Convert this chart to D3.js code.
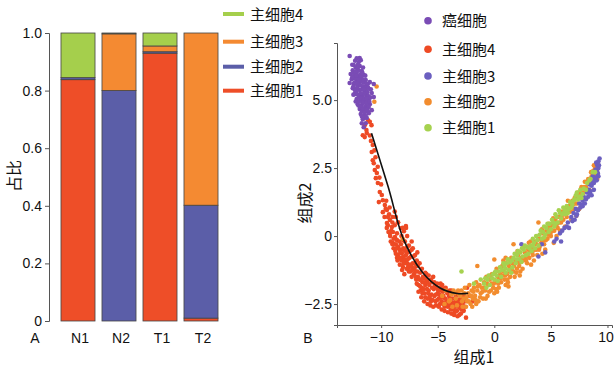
<!DOCTYPE html>
<html>
<head>
<meta charset="utf-8">
<script src="https://cdn.jsdelivr.net/npm/d3@7"></script>
<style>
  body { margin: 0; background: #fff; }
  text { font-family: "Liberation Sans", Arial, "Noto Sans CJK SC", sans-serif; fill: #111; }
  .cjk { font-family: "Noto Sans CJK SC", "Liberation Sans", sans-serif; }
</style>
</head>
<body>
<svg id="chart" width="614" height="371"></svg>
<script>
// ---- panel A data ----
const samples = ['N1', 'N2', 'T1', 'T2'];
const barSeries = ['主细胞1', '主细胞2', '主细胞3', '主细胞4'];
const cell1 = [0.838, 0.000, 0.930, 0.010];
const cell2 = [0.007, 0.800, 0.005, 0.392];
const cell3 = [0.000, 0.197, 0.020, 0.598];
const cell4 = [0.155, 0.003, 0.045, 0.000];
const barTicks = [0, 0.2, 0.4, 0.6, 0.8, 1.0];

// ---- panel B data (组成1, 组成2) ----
const cancer = [
  [-12.78,6.62],[-12.16,6.54],[-11.8,6.47],[-11.98,6.4],[-12.42,6.29],[-12.24,6.21],[-11.89,6.25],
  [-12.51,6.1],[-12.16,6.03],[-11.71,6.07],[-12.33,5.92],[-11.98,5.88],[-11.54,5.92],[-12.6,5.77],
  [-12.16,5.74],[-11.8,5.7],[-11.36,5.74],[-12.42,5.59],[-12.07,5.55],[-11.62,5.51],[-11.18,5.59],
  [-11.0,5.66],[-12.24,5.4],[-11.89,5.37],[-11.45,5.33],[-10.91,5.4],[-12.33,5.22],[-11.98,5.18],
  [-11.62,5.15],[-11.27,5.18],[-10.83,5.26],[-12.16,5.04],[-11.8,5.0],[-11.45,4.96],[-11.09,5.0],
  [-12.07,4.85],[-11.71,4.82],[-11.36,4.78],[-11.0,4.85],[-11.89,4.67],[-11.54,4.63],[-11.18,4.6],
  [-11.8,4.49],[-11.45,4.45],[-11.09,4.52],[-11.62,4.3],[-11.27,4.34],[-10.83,4.63],[-10.65,5.11],
  [-10.65,5.59],[-12.51,5.44],[-12.69,5.96],[-12.78,5.63],[-11.71,4.15],[-11.36,4.15],[-11.54,4.0],
  [-12.3,5.8],[-12.0,5.65],[-11.7,5.4],[-11.9,5.1],[-11.6,4.9],[-11.4,5.5],[-12.1,6.15],[-11.85,5.95],
  [-12.45,5.5],[-11.5,5.25],[-11.25,4.9],[-11.7,4.6],[-12.2,5.3],[-11.95,4.95],[-11.3,5.45],
  [-12.55,6.3],[-11.6,6.2],[-11.55,5.65],[-11.15,5.15],[-11.4,4.7],
  [-12.4,6.0],[-12.2,5.9],[-12.0,6.1],[-11.75,5.85],[-12.35,5.65],[-12.1,5.45],[-11.85,5.55],[-11.6,5.75],
  [-11.3,5.6],[-12.3,5.35],[-12.05,5.2],[-11.8,5.25],[-11.55,5.4],[-11.2,5.3],[-12.0,4.8],[-11.75,5.05],
  [-11.5,5.05],[-11.3,5.05],[-11.1,4.75],[-11.85,4.75],[-11.6,4.7],[-11.45,4.55],[-11.25,4.65],[-11.5,4.35],
  [-11.35,4.4],[-12.15,5.6],[-11.95,5.75],[-12.55,5.85],[-12.25,6.05],[-11.65,6.0],[-12.05,6.3],[-11.9,6.55],
  [-12.3,6.45],[-11.4,5.9],[-11.15,5.45],[-10.95,5.1],[-11.05,4.95],[-12.45,5.2],[-12.25,4.95],[-11.7,4.4]
];
const main4 = [
  [-11.62,3.71],[-11.27,3.79],[-11.45,3.64],[-11.15,4.26],[-11.0,4.2],[-11.45,4.08],[-11.3,3.9],[-10.85,4.08],
  [-10.74,3.35],[-10.83,3.09],[-10.74,2.79],[-10.65,2.68],[-10.56,2.43],[-10.38,2.32],[-10.47,2.13],
  [-10.29,1.95],[-10.12,1.62],[-9.94,1.51],[-9.85,1.32],[-10.2,1.25],[-9.67,1.14],[-9.49,0.96],
  [-9.85,0.88],[-9.4,0.7],[-9.23,0.59],[-9.49,0.48],[-9.05,0.33],[-8.96,0.15],[-9.23,0.11],
  [-8.78,-0.04],[-8.6,-0.15],[-8.96,-0.26],[-8.52,-0.4],[-8.34,-0.51],[-8.16,-0.63],[-8.07,-0.77],
  [-8.52,-0.7],[-7.9,-0.88],[-7.72,-0.99],[-8.07,-1.14],[-7.63,-1.18],[-7.28,-1.14],
  [-8.25,0.29],[-7.99,0.18],[-7.81,0.37],[-8.52,0.51],[-7.8,0.3],[-7.7,0.0],
  [-9.6,1.0],[-9.3,0.8],[-9.0,0.5],[-8.8,0.9],[-9.1,0.2],[-8.7,0.7],[-9.4,0.4],[-8.9,-0.1],
  [-8.8,0.4],[-8.6,0.1],[-8.4,-0.2],[-8.7,-0.3],[-8.2,0.0],[-8.0,-0.5],[-8.3,-0.6],[-8.5,0.5],
  [-8.1,0.3],[-7.9,-0.2],[-8.6,-0.8],[-8.2,-0.9],[-7.8,-0.7],
  [-7.7,-0.4],[-7.5,-0.8],[-7.3,-0.5],[-7.6,-1.1],[-7.2,-1.0],[-7.0,-0.7],[-7.4,-1.3],[-7.1,-1.4],
  [-6.9,-1.1],[-7.8,-1.0],[-7.3,-0.2],[-6.8,-0.6],
  [-6.8,-1.3],[-6.6,-1.6],[-6.4,-1.2],[-6.7,-1.8],[-6.3,-1.5],[-6.1,-1.8],[-6.5,-2.0],[-6.2,-2.1],
  [-6.0,-1.4],[-6.6,-1.0],[-6.9,-1.6],[-6.4,-1.9],
  [-5.9,-1.7],[-5.8,-2.0],[-5.6,-1.6],[-5.7,-2.3],[-5.5,-1.9],[-5.3,-2.2],[-5.4,-1.5],[-5.1,-1.9],
  [-5.2,-2.4],[-5.0,-2.1],[-5.9,-2.3],[-5.6,-2.4],[-5.3,-1.7],
  [-4.9,-2.3],[-4.8,-2.5],[-4.7,-2.0],[-4.5,-2.2],[-4.4,-2.6],[-4.3,-1.9],[-4.2,-2.4],[-4.0,-2.2],
  [-4.6,-1.8],[-4.1,-2.6],[-4.8,-1.9],[-4.5,-2.5],
  [-3.9,-2.5],[-3.7,-2.3],[-3.6,-2.7],[-3.4,-2.4],[-3.3,-2.1],[-3.2,-2.6],[-3.0,-2.3],[-2.9,-2.7],
  [-2.8,-2.5],[-2.7,-2.2],[-3.5,-2.8],[-3.1,-2.9],[-2.6,-2.6],[-3.8,-2.0],[-2.5,-3.0],[-3.3,-2.75],
  [-2.2,-2.2],[-1.9,-2.4],[-2.4,-1.9],
  [-8.45,-0.45],[-8.05,-0.15],[-7.65,-0.6],[-7.45,-1.05],[-7.15,-0.75],[-6.95,-1.3],[-6.75,-1.5],
  [-6.55,-1.35],[-6.35,-1.7],[-6.15,-1.55],[-5.95,-1.95],[-5.75,-1.8],[-5.55,-2.15],[-5.35,-1.95],
  [-5.15,-2.15],[-4.95,-2.0],[-4.75,-2.25],[-4.55,-2.05],[-4.35,-2.3],[-4.15,-2.1],[-3.95,-2.3],
  [-3.75,-2.55],[-3.55,-2.45],[-3.35,-2.55],[-3.15,-2.35],[-2.95,-2.5],[-2.75,-2.4],[-5.85,-2.1],
  [-5.45,-2.35],[-4.65,-2.4],[-4.25,-2.55],[-3.85,-2.7],[-6.25,-1.95],[-6.85,-0.9],[-7.25,-1.25],[-7.9,-0.85],
  [-9.7,0.7],[-9.5,0.3],[-9.2,0.0],[-9.0,-0.3],[-8.75,-0.55],[-8.55,-0.9],[-8.35,-1.05],[-8.15,-1.25],
  [-7.95,-1.4],[-9.35,0.15],[-9.15,-0.2],[-8.9,-0.45],[-8.7,-0.65],[-8.45,-0.8],[-8.25,-0.3],[-8.05,-0.45],
  [-7.85,-0.55],[-7.55,-0.35],[-7.35,-0.75],[-7.55,-1.3],[-7.3,-1.5],[-7.05,-1.2],[-6.75,-1.1],[-6.95,-1.5],
  [-6.85,-1.75],[-6.55,-1.85],[-6.35,-2.1],[-6.1,-2.25],[-5.9,-2.5],[-5.65,-2.55],[-5.4,-2.6],[-5.15,-2.55],
  [-4.9,-2.6],[-4.65,-2.7],[-4.4,-2.75],[-4.1,-2.8],[-3.8,-2.85],[-3.55,-2.9],[-3.25,-2.95],[-2.95,-2.85],
  [-2.7,-2.75],[-6.1,-1.35],[-5.8,-1.45],[-5.5,-1.7],[-5.25,-1.8],[-5.05,-1.75],[-4.75,-1.75],[-4.5,-1.95],
  [-4.25,-2.0],[-3.95,-2.0],[-3.65,-2.1],[-3.4,-2.2],[-3.1,-2.15],[-2.85,-2.3],[-2.6,-2.4],[-6.7,-2.05],
  [-6.45,-2.25],[-6.2,-2.4],[-5.05,-2.35],[-4.85,-2.15],[-4.6,-2.25],[-4.35,-2.45],[-4.05,-2.45],[-3.7,-2.45],
  [-3.45,-2.6],[-3.2,-2.45],[-3.0,-2.65],[-5.7,-2.2],[-5.95,-1.6],[-6.2,-1.7],[-6.5,-1.6],[-7.0,-1.0],
  [-7.2,-0.45],[-7.45,-0.55],[-7.65,-0.85],[-7.75,-1.2],[-8.0,-1.0],[-8.3,-0.8],[-8.65,-0.45],[-9.0,0.7],
  [-9.25,1.05],[-9.55,1.3],[-10.0,1.9],[-10.15,2.15],[-10.3,2.55],[-10.5,2.9],[-10.6,3.15],[-10.9,3.5],[-11.0,3.7]
];
const main3 = [
  [4.5,-0.6],[5.3,-0.2],[5.8,0.1],[6.2,0.3],[6.5,0.5],[6.8,0.7],[7.0,0.85],[7.2,1.0],[7.3,0.8],
  [7.5,1.2],[7.6,1.05],[7.8,1.3],[7.9,1.45],[8.0,1.2],[8.2,1.6],[8.3,1.45],[8.4,1.9],[8.5,1.65],
  [8.6,1.85],[8.7,2.2],[8.8,1.95],[8.9,2.15],[9.0,2.4],[9.05,2.05],[9.1,2.6],[9.15,2.3],[9.2,2.5],
  [9.3,2.85],[9.0,2.7],[8.6,1.5],[7.1,0.6],[6.6,0.3],[5.9,-0.2],[4.2,-0.3],[3.9,-0.75],[2.4,-0.3],
  [8.8,1.7],[9.2,2.2],
  [7.4,0.95],[7.7,1.15],[8.1,1.35],[8.35,1.7],[8.55,1.95],[8.75,2.05],[8.95,2.45],[9.1,2.35],[9.25,2.6],
  [9.2,2.75],[6.9,0.55],[7.25,0.75],[7.8,1.1],[8.45,1.55],[9.0,2.15],[5.5,-0.1],[6.0,0.2],[6.4,0.35]
];
const main2 = [
  [-4.6,-2.2],[-4.3,-2.0],[-4.0,-2.4],[-3.8,-2.15],[-3.6,-2.0],[-3.4,-2.3],[-3.2,-2.0],[-3.0,-2.2],[-4.4,-2.5],[-3.7,-2.6],
  [-2.9,-2.0],[-2.7,-2.3],[-2.6,-1.9],[-2.4,-2.4],[-2.3,-2.1],[-2.1,-2.5],[-2.0,-2.0],[-2.5,-2.6],[-2.2,-1.8],[-2.8,-2.6],
  [-1.9,-2.3],[-1.8,-1.9],[-1.7,-2.2],[-1.5,-2.0],[-1.4,-2.4],[-1.3,-1.8],[-1.2,-2.1],[-1.0,-2.3],[-1.6,-1.7],[-1.1,-1.9],
  [-0.9,-1.7],[-0.8,-2.0],[-0.6,-2.2],[-0.5,-1.8],[-0.4,-1.6],[-0.3,-2.0],[-0.1,-1.9],[0.0,-2.1],[-0.7,-1.5],[-0.2,-1.4],
  [0.1,-1.7],[0.3,-1.5],[0.4,-1.9],[0.5,-1.4],[0.6,-1.7],[0.8,-1.3],[0.9,-1.6],[1.0,-1.8],[0.2,-1.2],[0.7,-1.1],
  [1.1,-1.4],[1.3,-1.1],[1.4,-1.5],[1.6,-1.0],[1.7,-1.3],[1.9,-0.9],[2.0,-1.2],[1.2,-1.7],[1.8,-1.5],[1.5,-0.8],
  [2.1,-0.7],[2.2,-1.1],[2.4,-0.8],[2.5,-1.2],[2.7,-0.6],[2.8,-0.9],[3.0,-0.5],[2.3,-1.3],[2.9,-1.0],[2.6,-0.4],
  [3.1,-0.8],[3.3,-0.4],[3.4,-0.7],[3.6,-0.2],[3.7,-0.5],[3.9,-0.1],[4.0,-0.4],[3.5,-0.9],[3.8,-0.7],[3.2,-0.2],
  [4.1,-0.1],[4.3,0.1],[4.4,-0.3],[4.6,0.2],[4.7,-0.1],[4.9,0.3],[5.0,0.0],[4.5,-0.5],[4.8,0.45],[4.2,0.25],
  [5.1,0.4],[5.3,0.2],[5.4,0.6],[5.6,0.3],[5.7,0.7],[5.9,0.5],[6.0,0.9],[5.5,0.0],[5.8,0.2],[5.2,0.65],
  [6.1,0.6],[6.3,1.0],[6.4,0.7],[6.6,1.1],[6.7,0.9],[6.9,1.3],[7.0,1.0],[6.5,1.3],[6.8,0.6],
  [7.1,1.4],[7.3,1.2],[7.4,1.6],[7.6,1.4],[7.7,1.8],[7.9,1.6],[8.0,2.0],[7.5,1.0],
  [8.1,1.8],[8.3,2.1],[8.4,1.7],[8.6,2.2],[8.7,2.0],[8.9,2.5],[9.0,2.3],[8.8,2.6],[9.1,2.1],
  [-1.5,-1.1],[0.0,-0.86],[1.0,-0.8],[1.7,-0.3],[3.9,0.5],[0.8,-0.9],[-10.4,5.5],[-10.6,4.94],[-8.1,-0.1],
  [-3.9,-2.35],[-3.5,-2.1],[-3.3,-2.55],[-3.1,-2.15],[-2.85,-2.4],[-2.65,-2.1],[-2.45,-2.25],[-2.25,-2.4],
  [-2.05,-2.2],[-1.85,-2.05],[-1.65,-2.35],[-1.45,-1.85],[-1.25,-2.25],[-1.05,-2.05],[-0.85,-1.9],[-0.65,-1.75],
  [-0.45,-2.05],[-0.25,-1.75],[-0.05,-1.75],[0.15,-1.95],[0.35,-1.75],[0.55,-1.55],[0.75,-1.45],[0.95,-1.45],
  [1.15,-1.6],[1.35,-1.3],[1.55,-1.2],[1.75,-1.1],[1.95,-1.35],[2.15,-0.95],[2.35,-0.95],[2.55,-0.9],
  [2.75,-0.8],[2.95,-0.75],[3.15,-0.55],[3.35,-0.6],[3.55,-0.5],[3.75,-0.3],[3.95,-0.5],[4.15,-0.25],
  [4.35,-0.15],[4.55,-0.15],[4.75,0.05],[4.95,0.1],[5.15,0.2],[5.35,0.4],[5.55,0.45],[5.75,0.5],
  [5.95,0.7],[6.15,0.8],[6.35,0.85],[6.55,0.95],[6.75,1.15],[6.95,1.15],[7.15,1.2],[7.35,1.45],
  [7.55,1.55],[7.75,1.6],[7.95,1.8],[8.15,2.0],[8.35,1.95],[8.55,2.35],[8.75,2.4],[8.95,2.2],
  [9.1,2.45],[9.15,2.7],[0.05,-1.35],[-0.35,-1.45],[1.05,-1.0],[2.05,-0.55],[3.05,-0.25],[-1.95,-2.6],
  [-1.6,-2.5],[-0.75,-2.3],[0.25,-2.05],[1.25,-1.85],[2.25,-1.45],[3.25,-1.05],[4.25,-0.65],[5.25,-0.25],
  [6.25,0.35],[7.25,0.75]
];
const main1 = [
  [-0.9,-1.75],[-0.6,-1.6],[-0.4,-1.8],[-0.2,-1.55],[0.0,-1.6],[-0.7,-1.9],
  [0.2,-1.45],[0.4,-1.3],[0.6,-1.5],[0.7,-1.25],[0.9,-1.1],[1.0,-1.35],[0.3,-1.65],
  [1.1,-1.0],[1.3,-1.25],[1.4,-0.95],[1.6,-1.15],[1.7,-0.8],[1.9,-1.0],[2.0,-0.7],[1.5,-1.35],
  [2.2,-0.85],[2.3,-0.6],[2.5,-0.75],[2.6,-0.5],[2.8,-0.7],[2.9,-0.4],[3.0,-0.65],[2.4,-0.95],
  [3.2,-0.35],[3.3,-0.55],[3.5,-0.25],[3.6,-0.45],[3.8,-0.15],[3.9,-0.35],[4.0,0.05],
  [4.2,-0.1],[4.3,0.15],[4.5,0.05],[4.6,0.3],[4.8,0.15],[4.9,0.45],[5.0,0.25],
  [5.2,0.5],[5.3,0.35],[5.5,0.7],[5.6,0.5],[5.8,0.85],[5.9,0.65],[6.0,0.8],
  [6.2,0.9],[6.4,1.1],[6.5,0.85],[6.7,1.25],[6.8,1.05],[7.0,1.3],
  [7.2,1.5],[7.4,1.35],[7.6,1.7],[7.8,1.55],[8.2,1.95],[8.5,2.1],[-2.9,-1.3],
  [-0.8,-1.55],[-0.5,-1.45],[-0.1,-1.4],[0.1,-1.3],[0.5,-1.15],[0.8,-1.0],[1.2,-0.85],[1.55,-0.9],
  [1.8,-0.65],[2.1,-0.55],[2.45,-0.45],[2.7,-0.35],[3.1,-0.45],[3.4,-0.1],[3.7,0.0],[4.1,0.2],
  [4.4,0.35],[4.7,0.45],[5.1,0.6],[5.4,0.8],[5.7,0.95],[6.1,1.05],[6.3,0.8],[6.6,1.0],
  [6.9,1.15],[7.1,1.35],[7.3,1.6],[7.5,1.45],[7.7,1.4],[7.9,1.75],[8.1,1.7],[8.4,2.05],
  [8.7,2.35],[8.9,2.35],[1.0,-1.2],[2.0,-0.85],[3.4,-0.35],[4.4,-0.05],[5.4,0.45],[6.3,0.95],
  [-1.8,-1.75],[-1.2,-1.6]
];
const trajectory = [[-10.85,3.78],[-9.38,1.81],[-7.99,-0.15],[-6.3,-1.36],[-4.79,-1.91],[-3.28,-2.11],[-2.31,-2.1]];
const scatterLegend = ['癌细胞', '主细胞4', '主细胞3', '主细胞2', '主细胞1'];
const xTicks = [-10, -5, 0, 5, 10];
const yTicks = [-2.5, 0, 2.5, 5.0];

const svg = d3.select('#chart');
const axisColor = '#555';
const minus = s => s.replace('-', '\u2212');

// ================= panel A =================
const barColor = d3.scaleOrdinal().domain(barSeries)
  .range(['#ee4e28', '#5b5ea8', '#f48a32', '#a5cf4c']);

const rows = samples.map((s, i) => ({
  sample: s, '主细胞1': cell1[i], '主细胞2': cell2[i], '主细胞3': cell3[i], '主细胞4': cell4[i]
}));
const stacked = d3.stack().keys(barSeries)(rows);

const xA = d3.scaleBand().domain(samples).range([57.5, 221.5]).paddingInner(0.17).paddingOuter(0.085);
const yA = d3.scaleLinear().domain([0, 1]).range([321, 33]);

const gA = svg.append('g');
gA.selectAll('g.layer')
  .data(stacked)
  .enter().append('g')
  .attr('class', 'layer')
  .attr('fill', d => barColor(d.key))
  .selectAll('rect')
  .data(d => d)
  .enter().append('rect')
  .attr('x', d => xA(d.data.sample))
  .attr('width', xA.bandwidth())
  .attr('y', d => yA(d[1]))
  .attr('height', d => yA(d[0]) - yA(d[1]))
  .attr('stroke', '#444')
  .attr('stroke-width', 0.8);

const axA = gA.append('g')
  .attr('transform', 'translate(49,0)')
  .call(d3.axisLeft(yA).tickValues(barTicks).tickSize(4).tickPadding(3)
    .tickFormat(d => d === 0 ? '0' : d.toFixed(1)));
axA.select('.domain').attr('stroke', axisColor);
axA.selectAll('.tick line').attr('stroke', axisColor);
axA.selectAll('text').attr('font-size', 14).attr('font-family', 'Liberation Sans, Arial, sans-serif').attr('fill', '#111');

gA.selectAll('text.xlab')
  .data(samples)
  .enter().append('text')
  .attr('class', 'xlab')
  .attr('x', d => xA(d) + xA.bandwidth() / 2 + 2)
  .attr('y', 343)
  .attr('text-anchor', 'middle')
  .attr('font-size', 14)
  .text(d => d);

gA.append('text').attr('x', 35).attr('y', 343).attr('text-anchor', 'middle')
  .attr('font-size', 14).text('A');

gA.append('text').attr('class', 'cjk')
  .attr('transform', 'translate(20,176) rotate(-90)')
  .attr('text-anchor', 'middle')
  .attr('font-size', 16)
  .text('占比');

// legend (reverse order, 主细胞4 on top)
const legA = [...barSeries].reverse();
const legAY = [14, 41.7, 66.7, 90.7];
const lgA = gA.selectAll('g.legA')
  .data(legA)
  .enter().append('g')
  .attr('class', 'legA')
  .attr('transform', (d, i) => `translate(223,${legAY[i]})`);
lgA.append('rect').attr('x', 0).attr('y', -2).attr('width', 21).attr('height', 4)
  .attr('fill', d => barColor(d));
lgA.append('text').attr('class', 'cjk').attr('x', 27).attr('y', 5.5)
  .attr('font-size', 15).text(d => d);

// ================= panel B =================
const xB = d3.scaleLinear().domain([-13.9, 10.4]).range([337, 612]);
const yB = d3.scaleLinear().domain([-3.27, 7.1]).range([325, 43]);
const gB = svg.append('g');

const groups = [
  { name: '主细胞4', pts: main4, color: '#ee4a24' },
  { name: '主细胞2', pts: main2, color: '#f28c2e' },
  { name: '主细胞3', pts: main3, color: '#6b5fc0' },
  { name: '主细胞1', pts: main1, color: '#a6d24f' },
  { name: '癌细胞', pts: cancer, color: '#7a4cb5' }
];
const groupColor = d3.scaleOrdinal().domain(groups.map(g => g.name)).range(groups.map(g => g.color));

groups.forEach(g => {
  gB.append('g').selectAll('circle')
    .data(g.pts)
    .enter().append('circle')
    .attr('cx', d => xB(d[0]))
    .attr('cy', d => yB(d[1]))
    .attr('r', 2.3)
    .attr('fill', g.color);
});

gB.append('path')
  .datum(trajectory)
  .attr('d', d3.line().x(d => xB(d[0])).y(d => yB(d[1])).curve(d3.curveCatmullRom))
  .attr('fill', 'none')
  .attr('stroke', '#111')
  .attr('stroke-width', 1.6);

const axBx = gB.append('g')
  .attr('transform', 'translate(0,325)')
  .call(d3.axisBottom(xB).tickValues(xTicks).tickSize(3).tickPadding(4).tickFormat(d => minus(String(d))));
const axBy = gB.append('g')
  .attr('transform', 'translate(337,0)')
  .call(d3.axisLeft(yB).tickValues(yTicks).tickSize(3).tickPadding(2)
    .tickFormat(d => d === 0 ? '0' : minus(d.toFixed(1))));
[axBx, axBy].forEach(a => {
  a.select('.domain').attr('stroke', axisColor);
  a.selectAll('.tick line').attr('stroke', axisColor);
  a.selectAll('text').attr('font-size', 14).attr('font-family', 'Liberation Sans, Arial, sans-serif').attr('fill', '#111');
});
// keep the last x label inside the frame
axBx.selectAll('.tick text').filter(d => d === 10).attr('dx', -2);

gB.append('text').attr('x', 308).attr('y', 343).attr('text-anchor', 'middle')
  .attr('font-size', 14).text('B');
gB.append('text').attr('class', 'cjk').attr('x', 474).attr('y', 363)
  .attr('text-anchor', 'middle').attr('font-size', 16).text('组成1');
gB.append('text').attr('class', 'cjk')
  .attr('transform', 'translate(311,203) rotate(-90)')
  .attr('text-anchor', 'middle').attr('font-size', 16).text('组成2');

const legBY = [20.7, 49.3, 76, 101.7, 127.7];
const lgB = gB.selectAll('g.legB')
  .data(scatterLegend)
  .enter().append('g')
  .attr('class', 'legB')
  .attr('transform', (d, i) => `translate(428,${legBY[i]})`);
lgB.append('circle').attr('r', 3.8).attr('fill', d => groupColor(d));
lgB.append('text').attr('class', 'cjk').attr('x', 14).attr('y', 5.5)
  .attr('font-size', 15).text(d => d);
</script>
</body>
</html>
